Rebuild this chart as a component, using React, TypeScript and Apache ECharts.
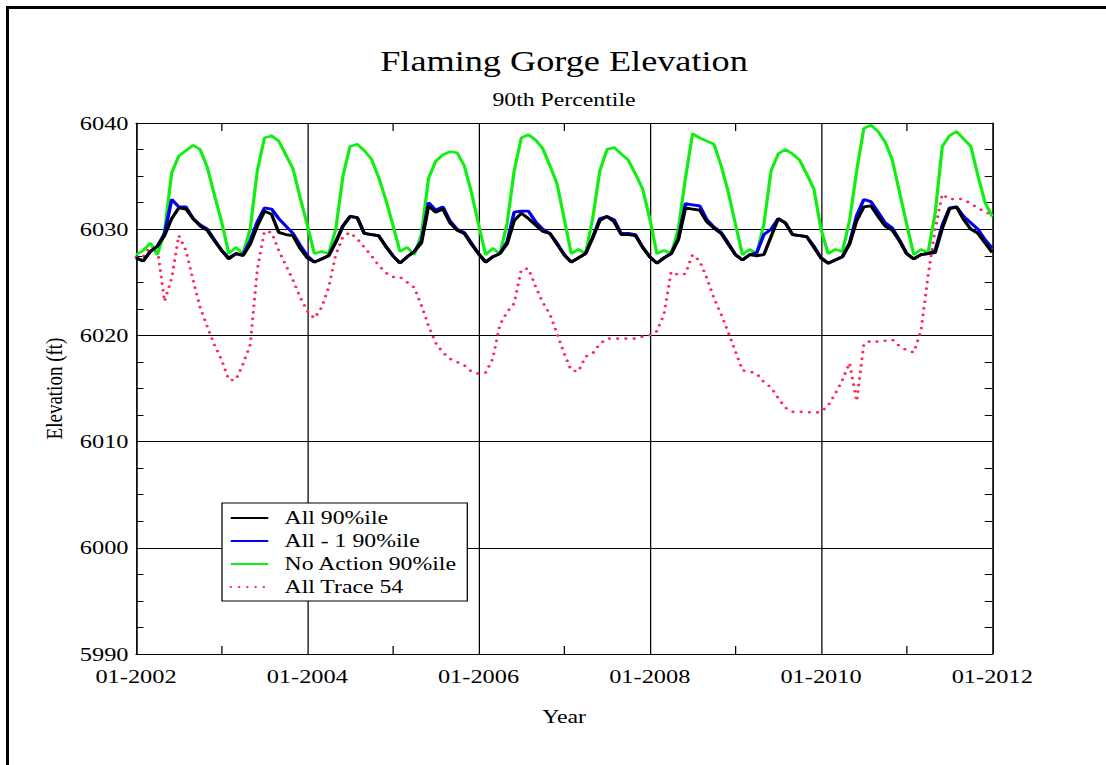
import React, { useEffect, useRef } from "react";
import * as echarts from "echarts";

// ---- data (monthly, 01-2002 .. 01-2012) ----
const years = [2002, 2003, 2004, 2005, 2006, 2007, 2008, 2009, 2010, 2011];
const monthCodes = ["01", "02", "03", "04", "05", "06", "07", "08", "09", "10", "11", "12"];
const categories: string[] = [];
years.forEach((y) => monthCodes.forEach((m) => categories.push(`${m}-${y}`)));
categories.push("01-2012");

const all90 = [
  6027.3, 6027.0, 6027.9, 6028.4, 6029.4, 6031.0, 6032.0, 6031.9, 6031.0, 6030.3, 6029.9, 6028.9,
  6028.0, 6027.2, 6027.7, 6027.5, 6028.6, 6030.3, 6031.7, 6031.4, 6029.7, 6029.5, 6029.4, 6028.2,
  6027.3, 6026.9, 6027.2, 6027.5, 6028.8, 6030.3, 6031.2, 6031.1, 6029.6, 6029.5, 6029.4, 6028.4,
  6027.5, 6026.8, 6027.4, 6027.9, 6028.7, 6032.2, 6031.6, 6031.9, 6030.6, 6029.9, 6029.6, 6028.6,
  6027.7, 6026.9, 6027.4, 6027.7, 6028.6, 6030.8, 6031.5, 6031.0, 6030.4, 6029.8, 6029.6, 6028.6,
  6027.6, 6026.9, 6027.3, 6027.7, 6029.2, 6030.8, 6031.2, 6030.7, 6029.5, 6029.5, 6029.4, 6028.3,
  6027.4, 6026.8, 6027.3, 6027.7, 6029.0, 6032.0, 6031.9, 6031.8, 6030.7, 6030.1, 6029.6, 6028.6,
  6027.6, 6027.1, 6027.6, 6027.5, 6027.6, 6029.3, 6031.0, 6030.6, 6029.5, 6029.4, 6029.3, 6028.3,
  6027.3, 6026.8, 6027.1, 6027.4, 6028.6, 6030.8, 6032.1, 6032.2, 6031.2, 6030.3, 6029.9, 6028.9,
  6027.7, 6027.2, 6027.6, 6027.7, 6027.8, 6030.1, 6031.9, 6032.1, 6030.9, 6030.0, 6029.6, 6028.7,
  6027.8,
];

const allMinus1 = [
  6027.3, 6027.0, 6027.9, 6028.4, 6029.6, 6032.8, 6032.1, 6032.1, 6031.0, 6030.4, 6030.0, 6029.0,
  6028.0, 6027.3, 6027.7, 6027.6, 6028.9, 6030.7, 6032.0, 6031.9, 6031.0, 6030.3, 6029.6, 6028.5,
  6027.5, 6026.9, 6027.2, 6027.5, 6028.8, 6030.3, 6031.2, 6031.1, 6029.6, 6029.5, 6029.4, 6028.4,
  6027.5, 6026.8, 6027.4, 6027.9, 6028.9, 6032.5, 6031.8, 6032.1, 6030.8, 6030.0, 6029.7, 6028.7,
  6027.7, 6026.9, 6027.4, 6027.7, 6028.8, 6031.6, 6031.7, 6031.7, 6030.7, 6030.0, 6029.6, 6028.7,
  6027.6, 6026.9, 6027.3, 6027.7, 6029.2, 6031.0, 6031.2, 6030.9, 6029.6, 6029.6, 6029.5, 6028.3,
  6027.4, 6026.8, 6027.3, 6027.7, 6029.1, 6032.4, 6032.3, 6032.2, 6030.9, 6030.2, 6029.7, 6028.7,
  6027.6, 6027.1, 6027.6, 6027.8, 6029.5, 6030.0, 6031.0, 6030.6, 6029.5, 6029.4, 6029.3, 6028.4,
  6027.3, 6026.8, 6027.1, 6027.4, 6028.7, 6031.3, 6032.8, 6032.6, 6031.6, 6030.6, 6030.1, 6029.0,
  6027.7, 6027.2, 6027.6, 6027.7, 6028.0, 6030.4, 6032.0, 6032.1, 6031.2, 6030.6, 6030.0, 6029.0,
  6028.2,
];

const noAction90 = [
  6027.6, 6028.0, 6028.7, 6027.6, 6029.8, 6035.3, 6036.9, 6037.4, 6037.9, 6037.5, 6035.8, 6033.2,
  6030.7, 6027.7, 6028.3, 6027.7, 6030.0, 6035.5, 6038.6, 6038.8, 6038.3, 6037.0, 6035.7, 6033.0,
  6030.4, 6027.7, 6027.9, 6027.7, 6030.0, 6035.0, 6037.8, 6038.0, 6037.4, 6036.6, 6034.9, 6032.8,
  6030.4, 6027.9, 6028.3, 6027.6, 6029.5, 6034.8, 6036.4, 6037.0, 6037.3, 6037.2, 6036.0, 6033.5,
  6030.5, 6027.6, 6028.2, 6027.7, 6030.5, 6035.5, 6038.6, 6038.9, 6038.4, 6037.6, 6036.0, 6034.3,
  6031.0, 6027.7, 6028.1, 6027.7, 6031.0, 6035.5, 6037.5, 6037.7, 6037.1, 6036.5, 6035.2, 6033.8,
  6031.0, 6027.7, 6028.0, 6027.7, 6030.0, 6034.8, 6039.0, 6038.6, 6038.3, 6038.0, 6036.0, 6033.5,
  6030.5, 6027.6, 6028.1, 6027.7, 6030.5, 6035.5, 6037.1, 6037.5, 6037.1, 6036.5, 6035.2, 6033.8,
  6030.0, 6027.7, 6028.1, 6027.9, 6030.8, 6035.5, 6039.5, 6039.8, 6039.2, 6038.2, 6036.5, 6033.5,
  6030.5, 6027.6, 6028.1, 6027.8, 6031.5, 6037.8, 6038.8, 6039.2, 6038.5, 6037.8, 6035.0, 6032.5,
  6031.2,
];

const trace54 = [
  6027.4, 6027.4, 6028.4, 6028.2, 6023.2, 6025.4, 6029.4, 6028.0, 6025.2, 6022.6, 6020.8, 6019.1,
  6017.7, 6015.8, 6015.8, 6017.3, 6019.1, 6026.2, 6029.8, 6029.7, 6028.0, 6026.6, 6025.2, 6023.6,
  6022.3, 6021.6, 6022.6, 6024.5, 6027.6, 6029.3, 6029.7, 6029.1, 6028.3, 6027.5, 6026.6, 6025.9,
  6025.5, 6025.5, 6025.0, 6024.5, 6022.8, 6020.9, 6019.3, 6018.4, 6017.8, 6017.5, 6017.2, 6016.6,
  6016.4, 6016.5, 6017.8, 6021.0, 6022.2, 6023.0, 6026.2, 6026.3, 6024.6, 6023.1, 6022.0, 6020.2,
  6018.3, 6016.7, 6016.6, 6018.0, 6018.3, 6019.2, 6019.7, 6019.7, 6019.7, 6019.7, 6019.7, 6019.9,
  6020.0, 6020.4, 6022.0, 6026.0, 6025.7, 6025.8, 6027.6, 6027.0, 6025.4, 6023.5, 6022.0, 6020.3,
  6018.5, 6016.7, 6016.6, 6016.4, 6015.6, 6015.1, 6014.1, 6013.2, 6012.8, 6012.8, 6012.8, 6012.7,
  6012.8, 6013.4, 6014.5, 6015.8, 6017.4, 6013.8, 6019.2, 6019.5, 6019.4, 6019.5, 6019.6, 6019.0,
  6018.6, 6018.4, 6020.4, 6025.6, 6030.0, 6033.3, 6032.8, 6032.9, 6032.8, 6032.4, 6032.0, 6031.6,
  6031.4,
];

const legendNames = ["All 90%ile", "All - 1 90%ile", "No Action 90%ile", "All Trace 54"];
const titleText = "Flaming Gorge Elevation";
const subtitleText = "90th Percentile";

// ---- layout (chart drawn in a narrower box and stretched horizontally) ----
const STRETCH = 1.25;
const W = 1106 / STRETCH;
const H = 765;
const FONT = '"Liberation Serif", "Times New Roman", serif';

export default function App() {
  const ref = useRef<HTMLDivElement>(null);

  useEffect(() => {
    if (!ref.current) return;
    const chart = echarts.init(ref.current, null, { renderer: "svg" });
    const gridLeft = 136 / STRETCH;
    const gridRight = W - 992 / STRETCH;
    const plotCx = (gridLeft + (W - gridRight)) / 2;

    const tickEveryOddYear = (i: number) => i % 24 === 12;
    const everyTwoYears = (i: number) => i % 24 === 0;

    const xBase = {
      type: "category",
      data: categories,
      boundaryGap: false,
      axisLine: { show: true, onZero: false, lineStyle: { color: "#000", width: 1 } },
      axisTick: { show: true, inside: true, length: 8, interval: tickEveryOddYear, lineStyle: { color: "#000", width: 1 } },
    };
    const yBase = {
      type: "value",
      min: 5990,
      max: 6040,
      interval: 10,
      axisLine: { show: true, onZero: false, lineStyle: { color: "#000", width: 1 } },
      axisTick: { show: true, inside: true, length: 6, lineStyle: { color: "#000", width: 1 } },
      minorTick: { show: true, splitNumber: 4, length: 6, lineStyle: { color: "#000", width: 1 } },
    };

    chart.setOption({
      animation: false,
      backgroundColor: "#fff",
      grid: { left: gridLeft, right: gridRight, top: 123, bottom: 111, containLabel: false },
      xAxis: [
        {
          ...xBase,
          position: "bottom",
          name: "Year",
          nameLocation: "middle",
          nameGap: 53,
          nameTextStyle: { fontFamily: FONT, fontSize: 19, color: "#000" },
          axisLabel: { show: true, interval: everyTwoYears, margin: 12, fontFamily: FONT, fontSize: 19.5, color: "#000" },
          splitLine: { show: true, interval: everyTwoYears, lineStyle: { color: "#000", width: 1 } },
        },
        {
          ...xBase,
          position: "top",
          axisLabel: { show: false },
          splitLine: { show: false },
        },
      ],
      yAxis: [
        {
          ...yBase,
          position: "left",
          name: "Elevation (ft)",
          nameLocation: "middle",
          nameGap: 38,
          nameTextStyle: { fontFamily: FONT, fontSize: 19, color: "#000" },
          axisLabel: {
            show: true,
            margin: 6,
            fontFamily: FONT,
            fontSize: 19.5,
            color: "#000",
            formatter: (v: number) => String(v),
          },
          splitLine: { show: true, lineStyle: { color: "#000", width: 1 } },
        },
        {
          ...yBase,
          position: "right",
          axisLabel: { show: false },
          splitLine: { show: false },
        },
      ],
      legend: {
        data: legendNames,
        orient: "vertical",
        left: 222 / STRETCH,
        top: 503,
        itemWidth: 30,
        itemHeight: 14,
        itemGap: 3,
        padding: [5, 8, 4, 6],
        borderColor: "#000",
        borderWidth: 1,
        backgroundColor: "#fff",
        itemStyle: { opacity: 0 },
        textStyle: { fontFamily: FONT, fontSize: 19, color: "#000", lineHeight: 20, padding: [0, 0, 0, 8] },
      },
      graphic: [
        {
          type: "text",
          x: plotCx,
          y: 61,
          style: { text: titleText, fontFamily: FONT, fontSize: 29, fill: "#000", align: "center", verticalAlign: "middle" },
        },
        {
          type: "text",
          x: plotCx,
          y: 100,
          style: { text: subtitleText, fontFamily: FONT, fontSize: 19, fill: "#000", align: "center", verticalAlign: "middle" },
        },
        {
          type: "line",
          shape: { x1: 6, y1: 6, x2: 6, y2: H + 10 },
          style: { stroke: "#000", lineWidth: 2.4 },
        },
        {
          type: "line",
          shape: { x1: 4.8, y1: 7.5, x2: W + 10, y2: 7.5 },
          style: { stroke: "#000", lineWidth: 3 },
        },
      ],
      series: [
        {
          name: "All Trace 54",
          type: "line",
          data: trace54,
          symbol: "none",
          z: 1,
          itemStyle: { color: "#ff2a5a" },
          lineStyle: { color: "#ff2a5a", width: 2.6, type: [0.1, 6.5], cap: "round" },
        },
        {
          name: "No Action 90%ile",
          type: "line",
          data: noAction90,
          symbol: "none",
          z: 2,
          itemStyle: { color: "#11ee11" },
          lineStyle: { color: "#11ee11", width: 2.6 },
        },
        {
          name: "All - 1 90%ile",
          type: "line",
          data: allMinus1,
          symbol: "none",
          z: 3,
          itemStyle: { color: "#0000ee" },
          lineStyle: { color: "#0000ee", width: 2.8 },
        },
        {
          name: "All 90%ile",
          type: "line",
          data: all90,
          symbol: "none",
          z: 4,
          itemStyle: { color: "#000" },
          lineStyle: { color: "#000", width: 2.8 },
        },
      ],
    });
    return () => chart.dispose();
  }, []);

  return (
    <div
      ref={ref}
      style={{
        position: "absolute",
        left: 0,
        top: 0,
        width: W,
        height: H,
        transform: `scaleX(${STRETCH})`,
        transformOrigin: "0 0",
      }}
    />
  );
}
